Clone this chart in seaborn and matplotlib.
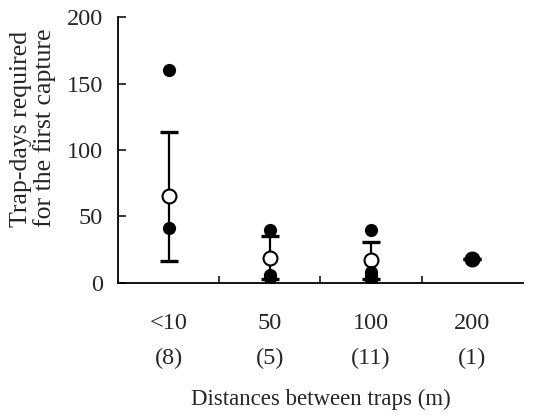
import numpy as np
import pandas as pd
import matplotlib
matplotlib.use("Agg")
import matplotlib.pyplot as plt
import seaborn as sns

# categories and sample sizes
distances = ["<10", "50", "100", "200"]
n_traps = [8, 5, 11, 1]

# individual trap-days (visible points)
pts_lt10 = [160, 41]
pts_50 = [40, 6, 4, 5]
pts_100 = [40, 8, 5, 3, 2, 4]
pts_200 = [18]

# mean and SD
means = [65, 19, 17, 18]
sds = [48.5, 16, 14, 0]

sns.set_theme(style="white")
plt.rcParams["font.family"] = ["Liberation Serif", "DejaVu Serif"]

rows = []
for d, vals in zip(distances, [pts_lt10, pts_50, pts_100, pts_200]):
    for v in vals:
        rows.append({"distance": d, "days": v})
df = pd.DataFrame(rows)

fig = plt.figure(figsize=(5.44, 4.16), dpi=100)
ax = fig.add_axes([0.217, 0.32, 0.744, 0.639])

x = np.arange(len(distances))
ax.errorbar(x, means, yerr=sds, fmt="none", ecolor="black", elinewidth=1.6,
            capsize=6.5, capthick=2.4, zorder=2)
ax.scatter(x, means, s=100, facecolor="white", edgecolor="black",
           linewidth=1.5, zorder=3)
sns.stripplot(data=df, x="distance", y="days", order=distances, jitter=False,
              color="black", size=9.5, linewidth=0, ax=ax, zorder=4)

ax.set_xlim(-0.5, 3.5)
ax.set_ylim(0, 200)
ax.set_yticks([0, 50, 100, 150, 200])
ax.set_xticks([0.5, 1.5, 2.5], minor=True)
ax.set_xticks(x)
ax.set_xticklabels([f"{d}\n({n})" for d, n in zip(distances, n_traps)],
                   linespacing=1.85)
ax.tick_params(axis="x", which="major", length=0, pad=22, labelsize=17.5)
ax.tick_params(axis="x", which="minor", direction="in", length=5, width=1.3,
               bottom=True)
ax.tick_params(axis="y", direction="in", length=6, width=1.3, left=True,
               labelsize=17.5, pad=11)

for side in ["top", "right"]:
    ax.spines[side].set_visible(False)
for side in ["left", "bottom"]:
    ax.spines[side].set_color("black")
    ax.spines[side].set_linewidth(1.3)

ax.set_xlabel("Distances between traps (m)", fontsize=16.5, labelpad=14)
ax.set_ylabel("")
fig.text(33 / 544, 1 - 227 / 416, "Trap-days required\nfor the first capture",
         rotation=90, ha="center", va="bottom", multialignment="left",
         fontsize=18.5, linespacing=1.05)

fig.savefig("out.png", dpi=100)
